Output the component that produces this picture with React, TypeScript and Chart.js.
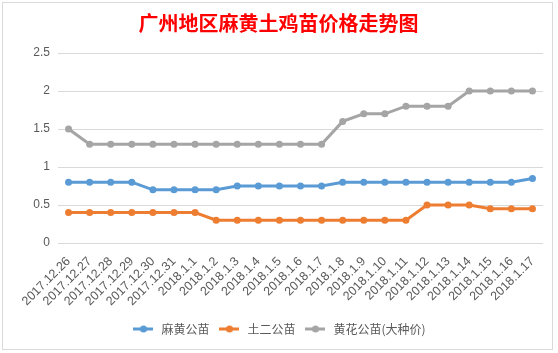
import React, { useEffect, useRef } from "react";
import { Chart, registerables } from "chart.js";

Chart.register(...registerables);

const categories = [
  "2017.12.26", "2017.12.27", "2017.12.28", "2017.12.29", "2017.12.30", "2017.12.31",
  "2018.1.1", "2018.1.2", "2018.1.3", "2018.1.4", "2018.1.5", "2018.1.6", "2018.1.7",
  "2018.1.8", "2018.1.9", "2018.1.10", "2018.1.11", "2018.1.12", "2018.1.13",
  "2018.1.14", "2018.1.15", "2018.1.16", "2018.1.17",
];
const mahuangGongmiao = [0.8, 0.8, 0.8, 0.8, 0.7, 0.7, 0.7, 0.7, 0.75, 0.75, 0.75, 0.75, 0.75, 0.8, 0.8, 0.8, 0.8, 0.8, 0.8, 0.8, 0.8, 0.8, 0.85];
const tuerGongmiao = [0.4, 0.4, 0.4, 0.4, 0.4, 0.4, 0.4, 0.3, 0.3, 0.3, 0.3, 0.3, 0.3, 0.3, 0.3, 0.3, 0.3, 0.5, 0.5, 0.5, 0.45, 0.45, 0.45];
const huanghuaGongmiao = [1.5, 1.3, 1.3, 1.3, 1.3, 1.3, 1.3, 1.3, 1.3, 1.3, 1.3, 1.3, 1.3, 1.6, 1.7, 1.7, 1.8, 1.8, 1.8, 2.0, 2.0, 2.0, 2.0];
const seriesNames = ["麻黄公苗", "土二公苗", "黄花公苗(大种价)"];
const seriesColors = ["#5B9BD5", "#ED7D31", "#A5A5A5"];
const yTicks = [0, 0.5, 1, 1.5, 2, 2.5];
const titleText = "广州地区麻黄土鸡苗价格走势图";

const FONT = '"Noto Sans CJK SC", "Liberation Sans", sans-serif';
const NUMFONT = '"Liberation Sans", "Noto Sans CJK SC", sans-serif';

function legendIcon(color: string) {
  const c = document.createElement("canvas");
  c.width = 20;
  c.height = 10;
  const ctx = c.getContext("2d")!;
  ctx.strokeStyle = color;
  ctx.lineWidth = 3;
  ctx.beginPath();
  ctx.moveTo(0, 5);
  ctx.lineTo(20, 5);
  ctx.stroke();
  ctx.fillStyle = color;
  ctx.beginPath();
  ctx.arc(10, 5, 3.5, 0, Math.PI * 2);
  ctx.fill();
  return c;
}

const framePlugin = {
  id: "frame",
  beforeDraw(chart: any) {
    const ctx = chart.ctx;
    ctx.save();
    ctx.fillStyle = "#ffffff";
    ctx.fillRect(0, 0, chart.width, chart.height);
    ctx.strokeStyle = "#d9d9d9";
    ctx.lineWidth = 1;
    ctx.strokeRect(2.5, 2.5, 550, 347);
    ctx.restore();
  },
};

export default function App() {
  const ref = useRef<HTMLCanvasElement | null>(null);
  useEffect(() => {
    document.body.style.margin = "0";
    const icons = seriesColors.map(legendIcon);
    const data = [mahuangGongmiao, tuerGongmiao, huanghuaGongmiao];
    const chart = new Chart(ref.current!, {
      type: "line",
      data: {
        labels: categories,
        datasets: data.map((d, i) => ({
          label: seriesNames[i],
          data: d,
          borderColor: seriesColors[i],
          backgroundColor: seriesColors[i],
          borderWidth: 3,
          pointRadius: 3.5,
          pointHoverRadius: 3.5,
          pointBorderWidth: 0,
          tension: 0,
        })),
      },
      options: {
        animation: false,
        responsive: false,
        layout: { padding: { left: 14, right: 15, top: 7, bottom: 8 } },
        plugins: {
          title: {
            display: true,
            text: titleText,
            color: "#FF0000",
            font: { family: FONT, size: 20, weight: "bold" },
            padding: { top: 4, bottom: 18 },
          },
          legend: {
            position: "bottom",
            labels: {
              usePointStyle: true,
              pointStyleWidth: 24,
              color: "#595959",
              font: { family: FONT, size: 12 },
              padding: 8,
              generateLabels(chart: any) {
                return chart.data.datasets.map((ds: any, i: number) => ({
                  text: ds.label,
                  pointStyle: icons[i],
                  fillStyle: ds.borderColor,
                  strokeStyle: ds.borderColor,
                  lineWidth: 0,
                  fontColor: "#595959",
                  hidden: false,
                  datasetIndex: i,
                }));
              },
            },
          },
          tooltip: { enabled: false },
        },
        scales: {
          x: {
            offset: true,
            grid: { display: false },
            border: { display: false },
            afterFit(scale: any) {
              scale.height = 72;
            },
            ticks: {
              color: "#595959",
              font: { family: NUMFONT, size: 12.5 },
              maxRotation: 45,
              minRotation: 45,
              autoSkip: false,
              padding: 3,
            },
          },
          y: {
            min: 0,
            max: 2.5,
            afterBuildTicks(scale: any) {
              scale.ticks = yTicks.map((v) => ({ value: v }));
            },
            afterFit(scale: any) {
              scale.width = 44;
            },
            grid: { color: "#d9d9d9", drawTicks: false, lineWidth: 1 },
            border: { display: false },
            ticks: {
              color: "#595959",
              font: { family: NUMFONT, size: 12 },
              padding: 8,
              callback: (v: any) => String(v),
            },
          },
        },
      },
      plugins: [framePlugin],
    });
    return () => chart.destroy();
  }, []);
  return (
    <div style={{ position: "absolute", left: 0, top: 0, width: 558, height: 353 }}>
      <canvas ref={ref} width={558} height={353} style={{ display: "block" }} />
    </div>
  );
}
